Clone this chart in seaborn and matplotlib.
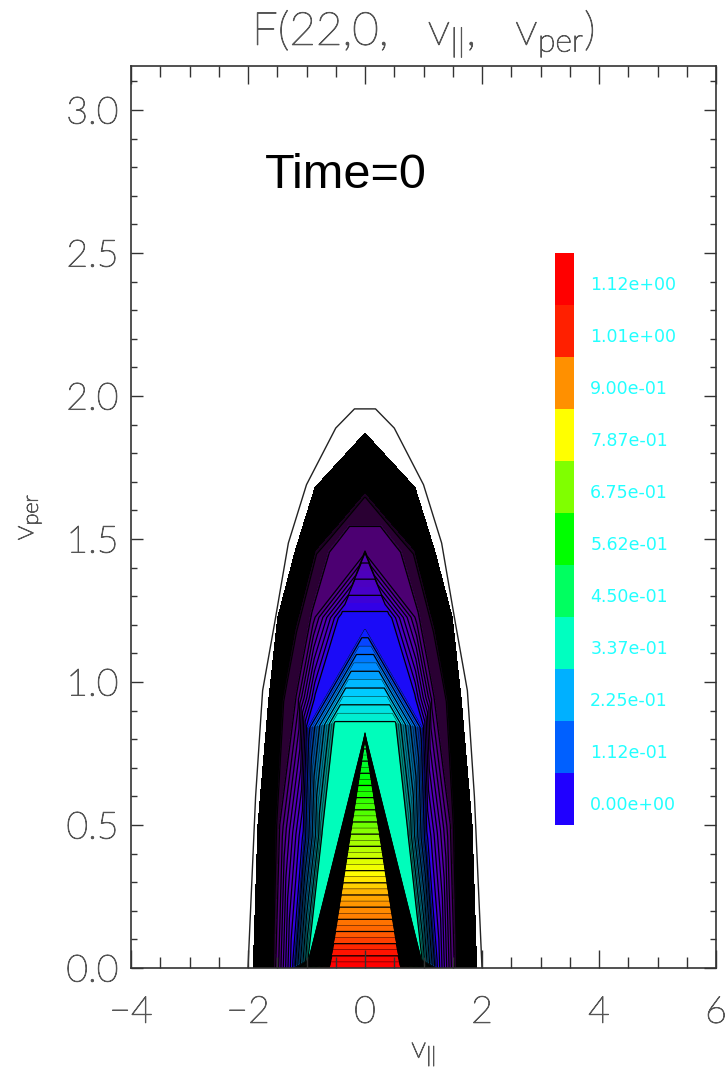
import numpy as np
import matplotlib
matplotlib.use('Agg')
import matplotlib.pyplot as plt
import matplotlib.tri as mtri
import matplotlib.patheffects as pe
from matplotlib.colors import LinearSegmentedColormap, ListedColormap, Normalize
from matplotlib.ticker import MultipleLocator
import seaborn as sns

# white outline, half of it (mirrored below)
outer_x = [0.18, 0.50, 1.00, 1.31, 1.55, 1.75, 1.87, 2.00]
outer_y = [1.955, 1.888, 1.69, 1.486, 1.20, 0.97, 0.60, 0.0]

# nested contour rings: x, y, F (scaled 0..1)
ring0 = ([0, 0.855, 1.19, 1.49, 1.64, 1.83, 1.91], [1.87, 1.68, 1.46, 1.227, 0.95, 0.5, 0], 0.006)
ring1 = ([0, 0.85, 1.20, 1.42, 1.54, 1.58], [1.67, 1.47, 1.19, 0.937, 0.5, 0], 0.02)
ring2 = ([0, 0.82, 1.16, 1.38, 1.50, 1.56], [1.64, 1.44, 1.17, 0.93, 0.5, 0], 0.06)
ring3 = ([0, 0.27, 0.62, 0.92, 1.19, 1.47, 1.54], [1.55, 1.55, 1.46, 1.25, 0.95, 0.5, 0], 0.06)
ring4 = ([0, 0.26, 0.60, 0.90, 1.17, 1.45, 1.52], [1.54, 1.54, 1.45, 1.24, 0.95, 0.5, 0], 0.085)
ring5 = ([0, 0.89, 1.15, 1.43, 1.50], [1.46, 1.227, 0.95, 0.5, 0], 0.086)
ring6 = ([0, 0.43, 0.85, 0.99, 1.05, 1.22], [1.45, 1.224, 0.94, 0.84, 0.45, 0],
         [0.16, 0.26, 0.26, 0.26, 0.26, 0.26])

# patches inside the rings: corner x, y, F
patches = [
    ([0, 0.43, 0], [1.45, 1.224, 1.224], [0.16, 0.26, 0.26]),
    ([0, 0.43, 0.85, 0.99], [1.19, 1.224, 0.94, 0.84], [0.26] * 4),
    ([0, 0.43, 0], [1.224, 1.224, 1.19], [0.26, 0.26, 0.26]),
    ([0, 0.52, 0], [1.19, 0.857, 0.857], [0.26, 0.402, 0.402]),
    ([0, 0.99, 0.52], [1.19, 0.84, 0.857], [0.26, 0.26, 0.402]),
    ([0, 0.52, 0.73, 0.97, 0], [0.857, 0.857, 0.47, 0.03, 0.825], [0.402] * 5),
    ([0, 0.97, 0.60], [0.825, 0.03, 0], [0.402, 0.402, 1.0]),
    ([0, 0.60, 0], [0.825, 0, 0.80], [0.402, 1.0, 0.53]),
    ([0, 0, 0.60], [0.80, 0, 0], [0.53, 1.0, 1.0]),
    ([0.52, 0.99, 0.73], [0.857, 0.84, 0.47], [0.402, 0.26, 0.402]),
    ([0.73, 0.99, 1.05], [0.47, 0.84, 0.45], [0.402, 0.26, 0.26]),
    ([0.73, 1.05, 0.97], [0.47, 0.45, 0.03], [0.402, 0.26, 0.402]),
    ([0.97, 1.05, 1.22], [0.03, 0.45, 0], [0.402, 0.26, 0.26]),
    ([0.60, 0.97, 1.22], [0, 0.03, 0], [1.0, 0.402, 0.26]),
]

# black gap between the spike and the turquoise wedge
gap_x = [0, 0.97, 1.00, 0.60, 0]
gap_y = [0.825, 0.03, 0.006, 0.006, 0.80]

# the hatched fan beside the wedge looks dark in the picture
fan_x = [0.52, 0.99, 1.05, 1.22, 0.97, 0.73]
fan_y = [0.857, 0.84, 0.45, 0.006, 0.03, 0.47]

# colour table of the contour bands
band_stops = [0, 0.03, 0.05, 0.0625, 0.075, 0.0875, 0.15, 0.22, 0.245, 0.26, 0.30, 0.36, 0.41,
              0.53, 0.62, 0.695, 0.74, 0.806, 0.84, 0.875, 0.93, 0.96, 0.99, 1.0]
band_colors = ['#000000', '#000000', '#2a0033', '#2a0033', '#4c0072', '#4c0072', '#5500a8',
               '#4800c8', '#3000e8', '#1010ff', '#0070ff', '#00d0ff', '#00ffb8', '#00ff60',
               '#00ff00', '#60ff00', '#a0ff00', '#ffff00', '#ffc000', '#ff9000', '#ff6000',
               '#ff2000', '#ff0000', '#ff0000']

# legend
legend_labels = ['1.12e+00', '1.01e+00', '9.00e-01', '7.87e-01', '6.75e-01', '5.62e-01',
                 '4.50e-01', '3.37e-01', '2.25e-01', '1.12e-01', '0.00e+00']
legend_colors = ['#ff0000', '#ff2000', '#ff9000', '#ffff00', '#80ff00', '#00ff00',
                 '#00ff60', '#00ffc0', '#00b0ff', '#0060ff', '#2000ff']

INK = '#333333'
TEXT = '#555555'

# mesh building
node_ids = {}
node_x, node_y, node_f = [], [], []
tris = []


def node(x, y, f):
    key = (float(x), float(y))
    if key not in node_ids:
        node_ids[key] = len(node_x)
        node_x.append(float(x))
        node_y.append(float(y))
        node_f.append(f)
    return node_ids[key]


def add_tri(a, b, c):
    if len({a, b, c}) == 3:
        tris.append([a, b, c])


def strip(r1, r2):
    # triangles between two rings, both sides
    for sign in (1, -1):
        f1 = r1[2] if isinstance(r1[2], list) else [r1[2]] * len(r1[0])
        f2 = r2[2] if isinstance(r2[2], list) else [r2[2]] * len(r2[0])
        a = [node(sign * x, y, f) for x, y, f in zip(r1[0], r1[1], f1)]
        b = [node(sign * x, y, f) for x, y, f in zip(r2[0], r2[1], f2)]
        i, j = 0, 0
        while i < len(a) - 1 or j < len(b) - 1:
            if i == len(a) - 1:
                adv_a = False
            elif j == len(b) - 1:
                adv_a = True
            else:
                d1 = (node_x[a[i + 1]] - node_x[b[j]]) ** 2 + (node_y[a[i + 1]] - node_y[b[j]]) ** 2
                d2 = (node_x[a[i]] - node_x[b[j + 1]]) ** 2 + (node_y[a[i]] - node_y[b[j + 1]]) ** 2
                adv_a = d1 < d2
            if adv_a:
                add_tri(a[i], b[j], a[i + 1])
                i += 1
            else:
                add_tri(a[i], b[j], b[j + 1])
                j += 1


rings = [ring0, ring1, ring2, ring3, ring4, ring5, ring6]
for r1, r2 in zip(rings[:-1], rings[1:]):
    strip(r1, r2)

for px, py, pf in patches:
    for sign in (1, -1):
        ids = [node(sign * x, y, f) for x, y, f in zip(px, py, pf)]
        for k in range(1, len(ids) - 1):
            add_tri(ids[0], ids[k], ids[k + 1])

tri = mtri.Triangulation(np.array(node_x), np.array(node_y), np.array(tris))
values = np.array(node_f)

sns.set_style('ticks')
plt.rcParams['font.family'] = ['Lato', 'DejaVu Sans']
plt.rcParams['font.weight'] = 'light'
plt.rcParams['axes.titleweight'] = 'light'
plt.rcParams['axes.labelweight'] = 'light'
plt.rcParams['mathtext.default'] = 'regular'

fig = plt.figure(figsize=(7.25, 10.72), dpi=100)
ax = fig.add_axes([131 / 725, 1 - 968 / 1072, 585 / 725, 902 / 1072])

cmap = LinearSegmentedColormap.from_list('idl', list(zip(band_stops, band_colors)))
norm = Normalize(0, 1)
levels = np.arange(0, 81) * 0.0125
ax.tricontourf(tri, values, levels=levels, cmap=cmap, norm=norm, antialiased=False)
# coarse lines in the purple part, every second one fainter above it
line_levels = np.r_[np.arange(1, 10) * 0.025, np.arange(20, 80) * 0.0125]
line_widths = [0.9] * 9 + [0.9, 0.3] * 30
ax.tricontour(tri, values, levels=line_levels, colors='black', linewidths=line_widths)
ax.fill(gap_x, gap_y, color='black', lw=0)
ax.fill(-np.array(gap_x), gap_y, color='black', lw=0)
ax.fill(fan_x, fan_y, color='black', alpha=0.4, lw=0)
ax.fill(-np.array(fan_x), fan_y, color='black', alpha=0.4, lw=0)

sns.lineplot(x=np.r_[-np.array(outer_x)[::-1], outer_x], y=np.r_[outer_y[::-1], outer_y],
             sort=False, estimator=None, color='#222222', lw=1.0, ax=ax)

ax.set_xlim(-4, 6)
ax.set_ylim(0, 3.154)
ax.xaxis.set_minor_locator(MultipleLocator(0.5))
ax.yaxis.set_minor_locator(MultipleLocator(0.1))
ax.set_xticks([-4, -2, 0, 2, 4, 6])
ax.set_yticks([0, 0.5, 1, 1.5, 2, 2.5, 3])
ax.set_xticklabels(['\u22124', '\u22122', '0', '2', '4', '6'])
ax.set_yticklabels(['0.0', '0.5', '1.0', '1.5', '2.0', '2.5', '3.0'])
ax.tick_params(axis='x', which='major', direction='in', top=True, length=13, width=1.0,
               color=INK, labelcolor=TEXT, labelsize=27, pad=20)
ax.tick_params(axis='x', which='minor', direction='in', top=True, length=8, width=1.0, color=INK)
ax.tick_params(axis='y', which='major', direction='in', right=True, length=8.6, width=1.0,
               color=INK, labelcolor=TEXT, labelsize=27, pad=9)
ax.tick_params(axis='y', which='minor', direction='in', right=True, length=4.3, width=1.0, color=INK)
for side in ax.spines.values():
    side.set_linewidth(1.2)
    side.set_color(INK)
    side.set_visible(True)
ax.set_axisbelow(False)

ax.set_xlabel('v$_{||}$', fontsize=22, color=TEXT, labelpad=7)
ax.set_ylabel('v$_{per}$', fontsize=22, color=TEXT, labelpad=16)
ax.set_title('F(22,0,   v$_{||}$,   v$_{per}$)', fontsize=33, color=TEXT, pad=15)
ax.text(-1.72, 2.77, 'Time=0', fontsize=35, family='Liberation Sans', weight='normal', color='black', va='center')

# the hairline face is too thin by itself
thick = [pe.withStroke(linewidth=0.7, foreground=TEXT)]
for t in ax.get_xticklabels() + ax.get_yticklabels() + [ax.xaxis.label, ax.yaxis.label, ax.title]:
    t.set_path_effects(thick)

# legend colour bar
bar = ax.inset_axes([3.25, 0.5, 0.32, 2.0], transform=ax.transData)
sns.heatmap(np.arange(len(legend_colors)).reshape(-1, 1), cmap=ListedColormap(legend_colors),
            cbar=False, xticklabels=False, yticklabels=False, ax=bar)
bar.set_axis_off()
for k, label in enumerate(legend_labels):
    ax.text(3.85, 2.5 - (k + 0.5) * 2.0 / 11 - 0.02, label, color='#22ffff', fontsize=12.5,
            family='DejaVu Sans', weight='normal', va='center')

fig.savefig('out.png', dpi=100)
